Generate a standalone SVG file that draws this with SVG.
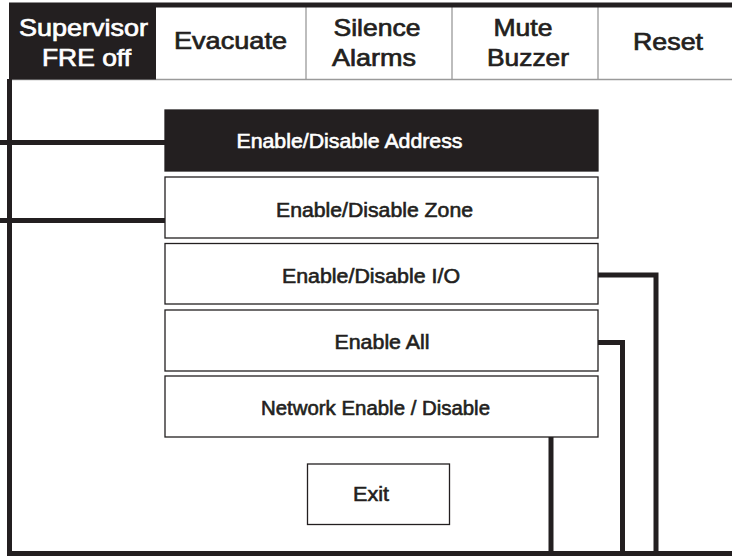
<svg xmlns="http://www.w3.org/2000/svg" width="732" height="556" viewBox="0 0 732 556">
<style>
.tab{font-family:"Liberation Sans",Arial,sans-serif;font-size:24px;fill:#231f20;stroke:#231f20;stroke-width:0.7;text-anchor:middle}
.tabw{fill:#ffffff;stroke:#ffffff}
.lbl{font-family:"Liberation Sans",Arial,sans-serif;font-size:20px;fill:#231f20;stroke:#231f20;stroke-width:0.6;text-anchor:middle}
.lblw{fill:#ffffff;stroke:#ffffff}
.box{fill:#ffffff;stroke:#231f20;stroke-width:1.3}
.boxk{fill:#231f20;stroke:#231f20;stroke-width:1.3}
.div{stroke:#9a9a9a;stroke-width:1.3;fill:none}
.wire{stroke:#231f20;stroke-width:5;fill:none;stroke-linejoin:miter;stroke-linecap:butt}
</style>
<rect x="0" y="0" width="732" height="556" fill="#ffffff"/>
<g id="frame">
<line class="div" x1="9" y1="79.5" x2="732" y2="79.5"/>
<line class="div" x1="306" y1="5" x2="306" y2="79"/>
<line class="div" x1="452" y1="5" x2="452" y2="79"/>
<line class="div" x1="598" y1="5" x2="598" y2="79"/>
<line class="wire" x1="9" y1="5" x2="732" y2="5"/>
</g>
<g id="tab-supervisor">
<rect x="9" y="3" width="147" height="76.5" fill="#231f20"/>
<text class="tab tabw" x="83.5" y="36" textLength="129" lengthAdjust="spacingAndGlyphs">Supervisor</text>
<text class="tab tabw" x="86.5" y="66" textLength="89" lengthAdjust="spacingAndGlyphs">FRE off</text>
</g>
<g id="tab-evacuate">
<text class="tab" x="230.5" y="49" textLength="113" lengthAdjust="spacingAndGlyphs">Evacuate</text>
</g>
<g id="tab-silence">
<text class="tab" x="377" y="36" textLength="87" lengthAdjust="spacingAndGlyphs">Silence</text>
<text class="tab" x="374" y="66" textLength="84" lengthAdjust="spacingAndGlyphs">Alarms</text>
</g>
<g id="tab-mute">
<text class="tab" x="523" y="36" textLength="59" lengthAdjust="spacingAndGlyphs">Mute</text>
<text class="tab" x="528" y="66" textLength="82" lengthAdjust="spacingAndGlyphs">Buzzer</text>
</g>
<g id="tab-reset">
<text class="tab" x="668" y="50" textLength="70" lengthAdjust="spacingAndGlyphs">Reset</text>
</g>
<g id="connectors">
<line class="wire" x1="9.5" y1="79" x2="9.5" y2="556"/>
<line class="wire" x1="7" y1="553.5" x2="732" y2="553.5"/>
<line class="wire" x1="0" y1="142.5" x2="165" y2="142.5"/>
<line class="wire" x1="0" y1="220.5" x2="165" y2="220.5"/>
<path class="wire" d="M598,275 H656 V556"/>
<path class="wire" d="M598,342.5 H622.5 V556"/>
<path class="wire" d="M551,434 V556"/>
</g>
<g id="btn-address">
<rect class="boxk" x="165" y="110" width="433" height="61"/>
<text class="lbl lblw" x="349.5" y="148" textLength="226" lengthAdjust="spacingAndGlyphs">Enable/Disable Address</text>
</g>
<g id="btn-zone">
<rect class="box" x="165" y="177" width="433" height="61"/>
<text class="lbl" x="374.5" y="217" textLength="197" lengthAdjust="spacingAndGlyphs">Enable/Disable Zone</text>
</g>
<g id="btn-io">
<rect class="box" x="165" y="243.5" width="433" height="60.5"/>
<text class="lbl" x="371" y="283" textLength="178" lengthAdjust="spacingAndGlyphs">Enable/Disable I/O</text>
</g>
<g id="btn-all">
<rect class="box" x="165" y="310" width="433" height="61"/>
<text class="lbl" x="382" y="349" textLength="95" lengthAdjust="spacingAndGlyphs">Enable All</text>
</g>
<g id="btn-network">
<rect class="box" x="165" y="376" width="433" height="61"/>
<text class="lbl" x="375.5" y="414.5" textLength="229" lengthAdjust="spacingAndGlyphs">Network Enable / Disable</text>
</g>
<g id="btn-exit">
<rect class="box" x="307.5" y="464" width="142" height="60.5"/>
<text class="lbl" x="371" y="501" textLength="36" lengthAdjust="spacingAndGlyphs">Exit</text>
</g>
</svg>
